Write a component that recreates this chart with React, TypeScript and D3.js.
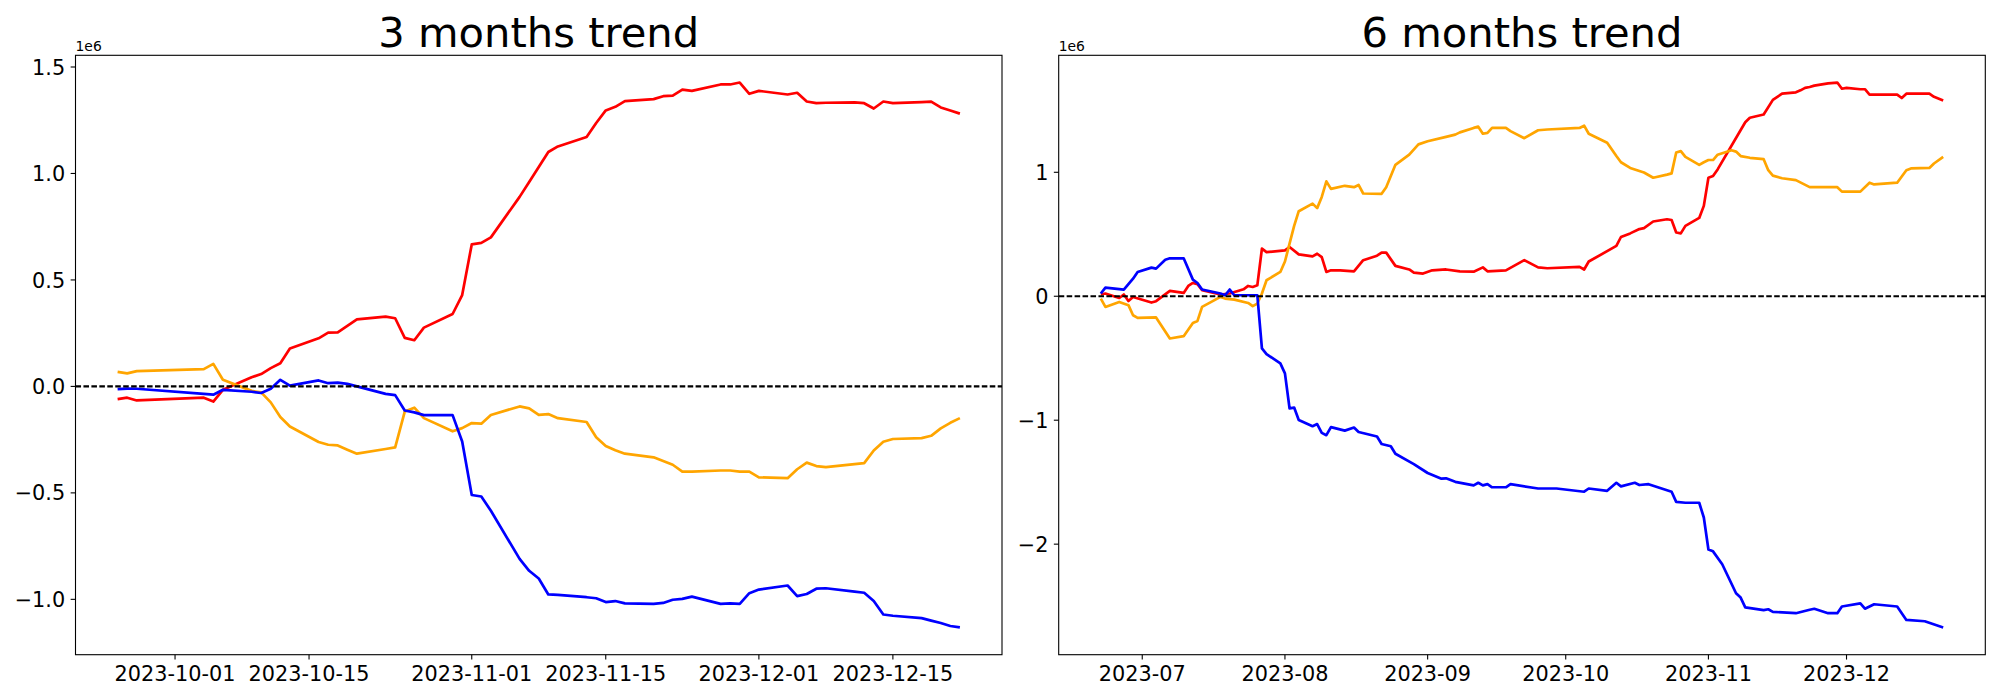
import React from 'react';
import * as d3 from 'd3';

// ---------------- DATA (values in units of 1e6) ----------------
// 3 months trend
const L_DATES = [
  '2023-09-25','2023-09-26','2023-09-27','2023-10-04','2023-10-05','2023-10-06','2023-10-09','2023-10-10','2023-10-11','2023-10-12','2023-10-13',
  '2023-10-16','2023-10-17','2023-10-18','2023-10-19','2023-10-20','2023-10-23','2023-10-24','2023-10-25','2023-10-26','2023-10-27',
  '2023-10-30','2023-10-31','2023-11-01','2023-11-02','2023-11-03','2023-11-06','2023-11-07','2023-11-08','2023-11-09','2023-11-10',
  '2023-11-13','2023-11-14','2023-11-15','2023-11-16','2023-11-17','2023-11-20','2023-11-21','2023-11-22','2023-11-23','2023-11-24',
  '2023-11-27','2023-11-28','2023-11-29','2023-11-30','2023-12-01','2023-12-04','2023-12-05','2023-12-06','2023-12-07','2023-12-08',
  '2023-12-11','2023-12-12','2023-12-13','2023-12-14','2023-12-15','2023-12-18','2023-12-19','2023-12-20','2023-12-21','2023-12-22',
];
const L_RED = [
  -0.060,-0.053,-0.066,-0.053,-0.071,-0.016,0.043,0.058,0.086,0.109,0.178,
  0.226,0.253,0.254,0.284,0.315,0.328,0.320,0.228,0.217,0.276,
  0.340,0.429,0.667,0.674,0.700,0.890,0.960,1.030,1.101,1.127,
  1.171,1.237,1.296,1.313,1.340,1.349,1.363,1.366,1.394,1.388,
  1.418,1.418,1.427,1.374,1.388,1.371,1.379,1.338,1.330,1.332,
  1.334,1.330,1.305,1.338,1.330,1.335,1.337,1.310,1.296,1.281,
];
const L_ORANGE = [
  0.068,0.061,0.072,0.081,0.106,0.031,-0.021,-0.028,-0.075,-0.144,-0.188,
  -0.261,-0.274,-0.277,-0.297,-0.316,-0.294,-0.286,-0.118,-0.100,-0.149,
  -0.211,-0.196,-0.172,-0.175,-0.134,-0.094,-0.103,-0.134,-0.130,-0.149,
  -0.167,-0.239,-0.280,-0.300,-0.316,-0.333,-0.350,-0.368,-0.400,-0.400,
  -0.395,-0.395,-0.400,-0.400,-0.427,-0.431,-0.389,-0.358,-0.374,-0.379,
  -0.365,-0.360,-0.301,-0.260,-0.247,-0.243,-0.232,-0.197,-0.171,-0.149,
];
const L_BLUE = [
  -0.013,-0.010,-0.011,-0.035,-0.039,-0.016,-0.025,-0.031,-0.011,0.031,0.004,
  0.028,0.015,0.018,0.012,0.000,-0.035,-0.041,-0.113,-0.122,-0.135,
  -0.135,-0.259,-0.510,-0.517,-0.584,-0.810,-0.866,-0.902,-0.977,-0.979,
  -0.990,-0.995,-1.013,-1.008,-1.019,-1.021,-1.017,-1.002,-0.998,-0.987,
  -1.021,-1.019,-1.021,-0.971,-0.954,-0.935,-0.985,-0.975,-0.950,-0.948,
  -0.964,-0.969,-1.008,-1.071,-1.077,-1.088,-1.100,-1.111,-1.125,-1.132,
];

// 6 months trend
const R_RED_DATES = [
  '2023-06-22','2023-06-23','2023-06-26','2023-06-27','2023-06-28','2023-06-29','2023-07-03','2023-07-04','2023-07-07','2023-07-10',
  '2023-07-11','2023-07-12','2023-07-13','2023-07-14','2023-07-18','2023-07-20','2023-07-23','2023-07-24','2023-07-25','2023-07-26',
  '2023-07-27','2023-07-28','2023-08-01','2023-08-02','2023-08-04','2023-08-07','2023-08-08','2023-08-09','2023-08-10','2023-08-11',
  '2023-08-13','2023-08-16','2023-08-18','2023-08-21','2023-08-22','2023-08-23','2023-08-25','2023-08-28','2023-08-29','2023-08-31',
  '2023-09-02','2023-09-05','2023-09-08','2023-09-11','2023-09-13','2023-09-14','2023-09-18','2023-09-22','2023-09-25','2023-09-27',
  '2023-10-04','2023-10-05','2023-10-06','2023-10-12','2023-10-13','2023-10-15','2023-10-17','2023-10-18','2023-10-20','2023-10-23',
  '2023-10-24','2023-10-25','2023-10-26','2023-10-27','2023-10-30','2023-10-31','2023-11-01','2023-11-02','2023-11-03','2023-11-09',
  '2023-11-10','2023-11-13','2023-11-15','2023-11-17','2023-11-20','2023-11-21','2023-11-22','2023-11-23','2023-11-24','2023-11-27',
  '2023-11-29','2023-11-30','2023-12-01','2023-12-04','2023-12-05','2023-12-06','2023-12-12','2023-12-13','2023-12-14','2023-12-19',
  '2023-12-20','2023-12-22',
];
const R_RED = [
  0.014,0.022,-0.014,0.014,-0.038,-0.006,-0.051,-0.040,0.043,0.027,
  0.083,0.107,0.097,0.048,0.014,0.022,0.056,0.083,0.075,0.088,
  0.384,0.356,0.370,0.397,0.338,0.322,0.343,0.316,0.196,0.209,
  0.209,0.201,0.291,0.327,0.352,0.352,0.245,0.216,0.191,0.183,
  0.209,0.216,0.201,0.198,0.233,0.201,0.209,0.291,0.233,0.226,
  0.237,0.216,0.280,0.406,0.478,0.507,0.542,0.549,0.603,0.621,
  0.615,0.514,0.507,0.568,0.632,0.729,0.956,0.970,1.023,1.404,
  1.440,1.466,1.584,1.634,1.645,1.661,1.681,1.688,1.699,1.717,
  1.724,1.674,1.681,1.670,1.670,1.627,1.627,1.599,1.634,1.634,
  1.609,1.580,
];
const R_ORANGE_DATES = [
  '2023-06-22','2023-06-23','2023-06-26','2023-06-28','2023-06-29','2023-06-30','2023-07-04','2023-07-07','2023-07-10','2023-07-12',
  '2023-07-13','2023-07-14','2023-07-18','2023-07-19','2023-07-21','2023-07-24','2023-07-25','2023-07-26','2023-07-27','2023-07-28',
  '2023-07-31','2023-08-01','2023-08-02','2023-08-03','2023-08-04','2023-08-07','2023-08-08','2023-08-09','2023-08-10','2023-08-11',
  '2023-08-14','2023-08-16','2023-08-17','2023-08-18','2023-08-22','2023-08-23','2023-08-25','2023-08-28','2023-08-30','2023-09-01',
  '2023-09-05','2023-09-07','2023-09-08','2023-09-11','2023-09-12','2023-09-13','2023-09-14','2023-09-15','2023-09-18','2023-09-19',
  '2023-09-22','2023-09-25','2023-09-27','2023-10-04','2023-10-05','2023-10-06','2023-10-10','2023-10-12','2023-10-13','2023-10-15',
  '2023-10-17','2023-10-18','2023-10-20','2023-10-23','2023-10-24','2023-10-25','2023-10-26','2023-10-27','2023-10-30','2023-10-31',
  '2023-11-01','2023-11-02','2023-11-03','2023-11-06','2023-11-07','2023-11-08','2023-11-10','2023-11-13','2023-11-14','2023-11-15',
  '2023-11-17','2023-11-20','2023-11-23','2023-11-27','2023-11-29','2023-11-30','2023-12-04','2023-12-06','2023-12-07','2023-12-12',
  '2023-12-14','2023-12-15','2023-12-19','2023-12-20','2023-12-22',
];
const R_ORANGE = [
  -0.019,-0.086,-0.046,-0.072,-0.153,-0.174,-0.171,-0.341,-0.322,-0.215,
  -0.199,-0.086,-0.005,-0.019,-0.027,-0.054,-0.080,-0.059,0.022,0.129,
  0.196,0.280,0.424,0.568,0.686,0.747,0.711,0.801,0.927,0.866,
  0.891,0.880,0.898,0.829,0.826,0.880,1.060,1.142,1.225,1.250,
  1.286,1.304,1.322,1.358,1.368,1.311,1.318,1.358,1.358,1.332,
  1.275,1.339,1.345,1.358,1.376,1.311,1.239,1.131,1.081,1.035,
  1.010,0.998,0.956,0.981,0.991,1.160,1.171,1.124,1.060,1.081,
  1.099,1.099,1.142,1.178,1.167,1.131,1.117,1.106,1.017,0.973,
  0.952,0.937,0.880,0.880,0.880,0.844,0.844,0.916,0.902,0.916,
  1.017,1.031,1.035,1.071,1.124,
];
const R_BLUE_DATES = [
  '2023-06-22','2023-06-23','2023-06-27','2023-06-29','2023-06-30','2023-07-03','2023-07-04','2023-07-06','2023-07-07','2023-07-10',
  '2023-07-12','2023-07-13','2023-07-14','2023-07-18','2023-07-19','2023-07-20','2023-07-21','2023-07-26','2023-07-27','2023-07-28',
  '2023-07-31','2023-08-01','2023-08-02','2023-08-03','2023-08-04','2023-08-07','2023-08-08','2023-08-09','2023-08-10','2023-08-11',
  '2023-08-14','2023-08-16','2023-08-17','2023-08-21','2023-08-22','2023-08-24','2023-08-25','2023-08-29','2023-09-01','2023-09-04',
  '2023-09-05','2023-09-07','2023-09-11','2023-09-12','2023-09-13','2023-09-14','2023-09-15','2023-09-18','2023-09-19','2023-09-25',
  '2023-09-29','2023-10-05','2023-10-06','2023-10-10','2023-10-12','2023-10-13','2023-10-16','2023-10-17','2023-10-19','2023-10-24',
  '2023-10-25','2023-10-27','2023-10-30','2023-10-31','2023-11-01','2023-11-02','2023-11-04','2023-11-07','2023-11-08','2023-11-09',
  '2023-11-13','2023-11-14','2023-11-15','2023-11-20','2023-11-23','2023-11-24','2023-11-27','2023-11-29','2023-11-30','2023-12-04',
  '2023-12-05','2023-12-07','2023-12-12','2023-12-14','2023-12-18','2023-12-22',
];
const R_BLUE = [
  0.022,0.070,0.054,0.142,0.196,0.231,0.223,0.295,0.306,0.306,
  0.134,0.107,0.054,0.022,0.008,0.054,0.008,0.008,-0.421,-0.467,
  -0.542,-0.622,-0.904,-0.898,-0.998,-1.048,-1.031,-1.102,-1.121,-1.056,
  -1.084,-1.059,-1.095,-1.131,-1.192,-1.210,-1.271,-1.354,-1.426,-1.472,
  -1.469,-1.497,-1.526,-1.505,-1.526,-1.516,-1.541,-1.541,-1.516,-1.551,
  -1.551,-1.577,-1.551,-1.570,-1.505,-1.534,-1.505,-1.523,-1.516,-1.577,
  -1.659,-1.666,-1.666,-1.785,-2.043,-2.058,-2.162,-2.396,-2.431,-2.510,
  -2.532,-2.525,-2.546,-2.557,-2.529,-2.521,-2.557,-2.557,-2.503,-2.478,
  -2.521,-2.485,-2.503,-2.611,-2.622,-2.672,
];

// tick labels
const L_X_TICKS = ['2023-10-01','2023-10-15','2023-11-01','2023-11-15','2023-12-01','2023-12-15'];
const R_X_TICKS = ['2023-07-01','2023-08-01','2023-09-01','2023-10-01','2023-11-01','2023-12-01'];
const L_Y_TICKS = [-1.0, -0.5, 0.0, 0.5, 1.0, 1.5];
const R_Y_TICKS = [-2, -1, 0, 1];

const COLORS = { red: '#ff0000', orange: '#ffa500', blue: '#0000ff' };
const FONT = "'DejaVu Sans', 'Liberation Sans', sans-serif";
const parse = d3.utcParse('%Y-%m-%d');

type SeriesSpec = { dates: string[]; values: number[]; color: string };

type PanelProps = {
  left: number; right: number; top: number; bottom: number;
  title: string;
  series: SeriesSpec[];
  xTicks: string[]; xFmt: (d: Date) => string;
  yTicks: number[]; yFmt: (v: number) => string;
};

function Panel(p: PanelProps) {
  const pts = p.series.map(s => s.dates.map((d, i) => [parse(d) as Date, s.values[i]] as [Date, number]));
  const all = pts.flat();
  const [dMin, dMax] = d3.extent(all, a => +a[0]) as [number, number];
  const [vMin, vMax] = d3.extent(all, a => a[1]) as [number, number];
  const dPad = (dMax - dMin) * 0.05;
  const vPad = (vMax - vMin) * 0.05;
  const xs = d3.scaleUtc().domain([new Date(dMin - dPad), new Date(dMax + dPad)]).range([p.left, p.right]);
  const ys = d3.scaleLinear().domain([vMin - vPad, vMax + vPad]).range([p.bottom, p.top]);
  const line = d3.line<[Date, number]>().x(d => xs(d[0])).y(d => ys(d[1]));
  const tickLen = 4.86;
  const fs = 20.8;
  return (
    <g>
      <text x={(p.left + p.right) / 2} y={p.top - 8.5} textAnchor="middle" fontFamily={FONT} fontSize={41.67} fill="#000">{p.title}</text>
      <text x={p.left} y={p.top - 4.6} fontFamily={FONT} fontSize={13.9} fill="#000">1e6</text>
      {pts.map((s, i) => (
        <path key={i} d={line(s) || ''} fill="none" stroke={p.series[i].color} strokeWidth={2.7} strokeLinejoin="round" strokeLinecap="butt" />
      ))}
      <line x1={p.left} x2={p.right} y1={ys(0)} y2={ys(0)} stroke="#000" strokeWidth={2.08} strokeDasharray="5.55 2.4" />
      <rect x={p.left} y={p.top} width={p.right - p.left} height={p.bottom - p.top} fill="none" stroke="#000" strokeWidth={1.1} />
      {p.xTicks.map(t => {
        const d = parse(t) as Date;
        const x = xs(d);
        return (
          <g key={t}>
            <line x1={x} x2={x} y1={p.bottom} y2={p.bottom + tickLen} stroke="#000" strokeWidth={1.1} />
            <text x={x} y={p.bottom + 26.3} textAnchor="middle" fontFamily={FONT} fontSize={fs} fill="#000">{p.xFmt(d)}</text>
          </g>
        );
      })}
      {p.yTicks.map(v => {
        const y = ys(v);
        return (
          <g key={v}>
            <line x1={p.left - tickLen} x2={p.left} y1={y} y2={y} stroke="#000" strokeWidth={1.1} />
            <text x={p.left - 10.3} y={y + 0.365 * fs} textAnchor="end" fontFamily={FONT} fontSize={fs} fill="#000">{p.yFmt(v)}</text>
          </g>
        );
      })}
    </g>
  );
}

const minus = (s: string) => s.replace('-', '\u2212');

export default function App() {
  const f1 = d3.format('.1f');
  const f0 = d3.format('d');
  return (
    <svg width={2000} height={700} viewBox="0 0 2000 700" style={{ position: 'absolute', left: 0, top: 0, display: 'block', background: '#fff' }}>
      <rect x={0} y={0} width={2000} height={700} fill="#fff" />
      <Panel
        left={75.5} right={1002} top={55.3} bottom={654.7}
        title="3 months trend"
        series={[
          { dates: L_DATES, values: L_RED, color: COLORS.red },
          { dates: L_DATES, values: L_ORANGE, color: COLORS.orange },
          { dates: L_DATES, values: L_BLUE, color: COLORS.blue },
        ]}
        xTicks={L_X_TICKS} xFmt={d3.utcFormat('%Y-%m-%d')}
        yTicks={L_Y_TICKS} yFmt={v => minus(f1(v))}
      />
      <Panel
        left={1058.7} right={1985.3} top={55.3} bottom={654.7}
        title="6 months trend"
        series={[
          { dates: R_RED_DATES, values: R_RED, color: COLORS.red },
          { dates: R_ORANGE_DATES, values: R_ORANGE, color: COLORS.orange },
          { dates: R_BLUE_DATES, values: R_BLUE, color: COLORS.blue },
        ]}
        xTicks={R_X_TICKS} xFmt={d3.utcFormat('%Y-%m')}
        yTicks={R_Y_TICKS} yFmt={v => minus(f0(v))}
      />
    </svg>
  );
}
